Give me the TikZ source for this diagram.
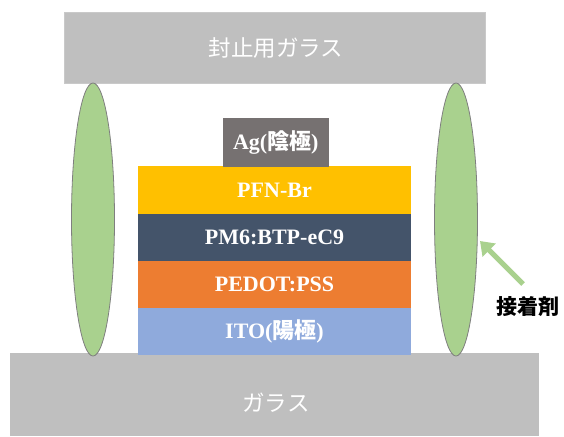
\documentclass[tikz,border=0pt]{standalone}
\usepackage{fontspec}
\setmainfont{Liberation Serif}
\newfontfamily\jp{Noto Sans CJK JP}
\usetikzlibrary{shapes.geometric,arrows.meta}
\definecolor{glass}{HTML}{BFBFBF}
\definecolor{agc}{HTML}{767171}
\definecolor{pfn}{HTML}{FFC000}
\definecolor{pm6}{HTML}{44546A}
\definecolor{pedot}{HTML}{ED7D31}
\definecolor{ito}{HTML}{8FAADC}
\definecolor{glue}{HTML}{A9D18E}
\definecolor{glueedge}{HTML}{7F7F7F}
\tikzset{
  bar/.style={fill=glass, draw=glass!85!white, line width=0.6pt, inner sep=0pt},
  bartext/.style={text=white, font=\jp\fontsize{22.5}{26}\selectfont, inner sep=0pt},
  layer/.style={minimum width=273pt, minimum height=47.5pt, inner sep=0pt, text=white, font=\bfseries\fontsize{22}{26}\selectfont},
  gluebody/.style={ellipse, fill=glue, draw=glueedge, line width=0.8pt, minimum width=43pt, minimum height=273pt, inner sep=0pt},
  gluearrow/.style={draw=glue, line width=5pt, -{Triangle[length=13pt,width=18pt]}},
}
\begin{document}
\begin{tikzpicture}[x=1pt,y=-1pt]
\useasboundingbox (0,0) rectangle (564,436);
% glass plates
\node[bar, minimum width=421pt, minimum height=71pt] (topglass) at (274.5,47.5) {};
\node[bartext] (toptext) at (276,48.5) {封止用ガラス};
\fill[glass] (10,353) rectangle (539,436);
\node[inner sep=0pt, minimum width=529pt, minimum height=83pt] (botglass) at (274.5,394.5) {};
\node[bartext] (bottext) at (276,403) {ガラス};
% layers
\node[layer, fill=ito] (ito) at (274.5,331.5) {ITO({\jp 陽極})};
\node[layer, fill=pedot] (pedot) at (274.5,284.5) {PEDOT:PSS};
\node[layer, fill=pm6] (pm6) at (274.5,237.2) {PM6:BTP-eC9};
\node[layer, fill=pfn] (pfn) at (274.5,190.2) {PFN-Br};
\node[fill=agc, minimum width=106.5pt, minimum height=49pt, inner sep=0pt, text=white, font=\bfseries\fontsize{22}{26}\selectfont] (ag) at (275.8,142.5) {Ag({\jp 陰極})};
\fill[pfn] (138,166.5) rectangle (411,170);
% adhesive
\node[gluebody] (lglue) at (93,219.5) {};
\node[gluebody] (rglue) at (456,219.5) {};
\node[font=\jp\bfseries\fontsize{21}{24}\selectfont] (gluelabel) at (527.5,307) {接着剤};
\coordinate (arrtail) at (523,284);
\coordinate (arrtip) at (480,241);
\draw[gluearrow] (arrtail) -- (arrtip);
\end{tikzpicture}
\end{document}
